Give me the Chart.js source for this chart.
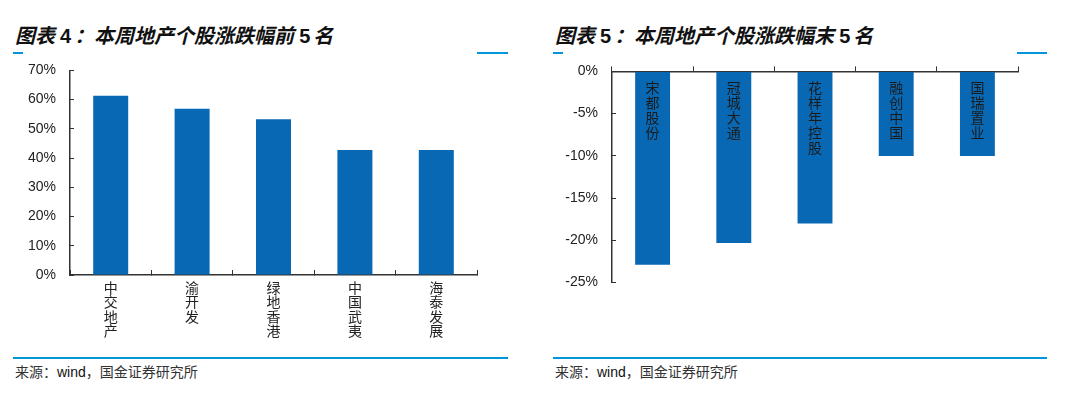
<!DOCTYPE html>
<html>
<head>
<meta charset="utf-8">
<script src="https://cdn.jsdelivr.net/npm/chart.js@4/dist/chart.umd.min.js"></script>
<style>
  html, body { margin: 0; padding: 0; background: #fff; }
  body { width: 1091px; height: 398px; position: relative; overflow: hidden; }
  .title { position: absolute; top: 23px; font-family: "Noto Sans CJK SC", sans-serif; font-weight: 700; font-style: italic; font-size: 20px; line-height: 24px; color: #111; white-space: nowrap; }
  .title .num { font-family: "Liberation Sans", Arial, sans-serif; font-style: normal; font-weight: 700; margin: 0 3px 0 5px; }
  .bar { position: absolute; background: #0096DA; height: 2px; }
  .src { position: absolute; top: 361px; font-family: "Noto Sans CJK SC", sans-serif; font-size: 14px; line-height: 20px; color: #333; white-space: nowrap; }
  .src .w { font-family: "Liberation Sans", Arial, sans-serif; color: #111; }
  canvas { position: absolute; }
</style>
</head>
<body>
<div class="title" style="left:15px;">图表<span class="num">4</span>：本周地产个股涨跌幅前<span class="num">5</span>名</div>
<div class="title" style="left:555px;">图表<span class="num">5</span>：本周地产个股涨跌幅末<span class="num">5</span>名</div>
<div class="bar" style="left:13px; top:52px; width:10px;"></div>
<div class="bar" style="left:477px; top:52px; width:31px;"></div>
<div class="bar" style="left:553px; top:52px; width:10px;"></div>
<div class="bar" style="left:1017px; top:52px; width:30px;"></div>
<div class="bar" style="left:13px; top:357px; width:495px;"></div>
<div class="bar" style="left:553px; top:357px; width:494px;"></div>
<div class="src" style="left:15px;">来源：<span class="w">wind</span>，国金证券研究所</div>
<div class="src" style="left:555px;">来源：<span class="w">wind</span>，国金证券研究所</div>

<canvas id="c1" width="500" height="309" style="left:0px; top:44px; width:500px; height:309px;"></canvas>
<canvas id="c2" width="500" height="264" style="left:545px; top:45px; width:500px; height:264px;"></canvas>

<script>
// ---- data ----
const topCategories = ['中交地产', '渝开发', '绿地香港', '中国武夷', '海泰发展'];
const topValues = [61.3, 56.9, 53.3, 42.8, 42.8];
const topTickValues = [0, 10, 20, 30, 40, 50, 60, 70];
const topTickLabels = ['0%', '10%', '20%', '30%', '40%', '50%', '60%', '70%'];

const bottomCategories = ['宋都股份', '冠城大通', '花样年控股', '融创中国', '国瑞置业'];
const bottomValues = [-22.9, -20.3, -18.0, -10.0, -10.0];
const bottomTickValues = [0, -5, -10, -15, -20, -25];
const bottomTickLabels = ['0%', '-5%', '-10%', '-15%', '-20%', '-25%'];

const BAR_COLOR = '#0868B4';
const AXIS_COLOR = '#333333';
const TEXT_COLOR = '#222222';
const NUM_FONT = '"Liberation Sans", Arial, sans-serif';
const CJK_FONT = '"Noto Sans CJK SC", sans-serif';

function tickLabel(values, labels) {
  return function (v) {
    const i = values.indexOf(Math.round(v));
    return i >= 0 ? labels[i] : '';
  };
}

// ---- chart 1 ----
new Chart(document.getElementById('c1'), {
  type: 'bar',
  data: {
    labels: topCategories.map(s => Array.from(s)),
    datasets: [{
      data: topValues,
      backgroundColor: BAR_COLOR,
      borderWidth: 0,
      categoryPercentage: 1.0,
      barPercentage: 0.43
    }]
  },
  options: {
    responsive: false,
    animation: false,
    layout: { padding: { top: 3, left: 0, right: 23, bottom: 0 } },
    plugins: { legend: { display: false }, tooltip: { enabled: false } },
    scales: {
      x: {
        grid: { display: true, drawOnChartArea: false, drawTicks: true, tickLength: -5, color: AXIS_COLOR, lineWidth: 1 },
        border: { display: true, color: AXIS_COLOR, width: 1.5 },
        ticks: {
          autoSkip: false, maxRotation: 0, minRotation: 0, padding: 10,
          color: TEXT_COLOR,
          font: { family: CJK_FONT, size: 14, lineHeight: 1.04 }
        },
        afterFit: s => { s.height = 78; }
      },
      y: {
        min: 0, max: 70,
        grid: { display: true, drawOnChartArea: false, drawTicks: true, tickLength: -4, color: AXIS_COLOR, lineWidth: 1 },
        border: { display: true, color: AXIS_COLOR, width: 1.5 },
        ticks: {
          stepSize: 10, padding: 18, color: TEXT_COLOR,
          font: { family: NUM_FONT, size: 14 },
          callback: tickLabel(topTickValues, topTickLabels)
        },
        afterFit: s => { s.width = 70; }
      }
    }
  }
});

// ---- chart 2 ----
const insideLabels = {
  id: 'insideLabels',
  afterDatasetsDraw(chart) {
    const ctx = chart.ctx;
    const xs = chart.scales.x, ys = chart.scales.y;
    const y0 = ys.getPixelForValue(0) + 9;
    ctx.save();
    ctx.fillStyle = '#1a1a1a';
    ctx.font = '14px ' + CJK_FONT;
    ctx.textAlign = 'center';
    ctx.textBaseline = 'top';
    bottomCategories.forEach((name, i) => {
      const x = xs.getPixelForValue(i);
      Array.from(name).forEach((ch, k) => {
        ctx.fillText(ch, x, y0 + k * 15);
      });
    });
    ctx.restore();
  }
};

new Chart(document.getElementById('c2'), {
  type: 'bar',
  data: {
    labels: bottomCategories,
    datasets: [{
      data: bottomValues,
      backgroundColor: BAR_COLOR,
      borderWidth: 0,
      categoryPercentage: 1.0,
      barPercentage: 0.43
    }]
  },
  plugins: [insideLabels],
  options: {
    responsive: false,
    animation: false,
    layout: { padding: { top: 5, left: 0, right: 27, bottom: 0 } },
    plugins: { legend: { display: false }, tooltip: { enabled: false } },
    scales: {
      x: {
        position: 'top',
        grid: { display: true, drawOnChartArea: false, drawTicks: true, tickLength: 5, color: AXIS_COLOR, lineWidth: 1 },
        border: { display: true, color: AXIS_COLOR, width: 1.5 },
        ticks: { display: false },
        afterFit: s => { s.height = 0; }
      },
      y: {
        min: -25, max: 0,
        grid: { display: true, drawOnChartArea: false, drawTicks: true, tickLength: -4, color: AXIS_COLOR, lineWidth: 1 },
        border: { display: true, color: AXIS_COLOR, width: 1.5 },
        ticks: {
          stepSize: 5, padding: 18, color: TEXT_COLOR,
          font: { family: NUM_FONT, size: 14 },
          callback: tickLabel(bottomTickValues, bottomTickLabels)
        },
        afterFit: s => { s.width = 67; }
      }
    }
  }
});
</script>
</body>
</html>
